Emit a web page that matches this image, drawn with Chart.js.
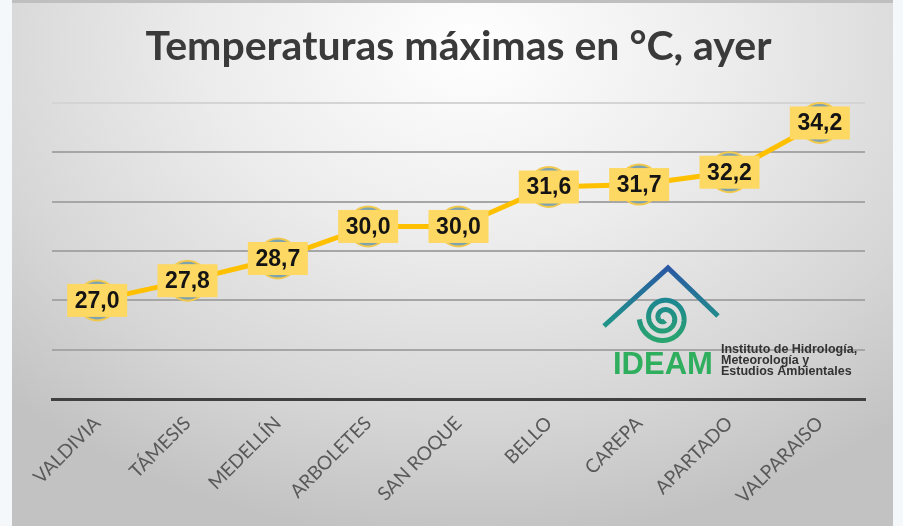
<!DOCTYPE html>
<html>
<head>
<meta charset="utf-8">
<script src="https://cdn.jsdelivr.net/npm/chart.js@4"></script>
<style>
  html, body { margin: 0; padding: 0; }
  body { width: 903px; height: 526px; background: #f4f8fb; position: relative; overflow: hidden; }
  #panel {
    position: absolute; left: 12px; top: 0; width: 881px; height: 526px;
    border-top: 3px solid #bfbfbf; box-sizing: border-box;
    background: radial-gradient(ellipse 75% 95% at 52% 8%, #ffffff 0%, #ececec 40%, #d6d6d6 75%, #c2c2c2 100%);
  }
  #wrap { position: absolute; left: 0; top: 0; width: 881px; height: 523px; }
</style>
</head>
<body>
<div id="panel">
  <div id="wrap"><canvas id="chart"></canvas></div>
</div>
<script>
// datos
const ciudades = ['VALDIVIA', 'TÁMESIS', 'MEDELLÍN', 'ARBOLETES', 'SAN ROQUE', 'BELLO', 'CAREPA', 'APARTADO', 'VALPARAISO'];
const temperaturas = [27.0, 27.8, 28.7, 30.0, 30.0, 31.6, 31.7, 32.2, 34.2];
const ejeMin = 23;
const ejeMax = 35;
const paso = 2;

// etiquetas amarillas sobre cada punto
const etiquetas = {
  id: 'etiquetas',
  afterDatasetsDraw(chart) {
    const ctx = chart.ctx;
    const meta = chart.getDatasetMeta(0);
    ctx.save();
    ctx.font = 'bold 23px "Liberation Sans", Arial, sans-serif';
    ctx.textAlign = 'center';
    ctx.textBaseline = 'middle';
    meta.data.forEach((p, i) => {
      const w = 60, h = 33;
      ctx.fillStyle = '#fdd862';
      ctx.fillRect(p.x - w / 2, p.y - h / 2, w, h);
      ctx.fillStyle = '#141414';
      ctx.fillText(temperaturas[i].toFixed(1).replace('.', ','), p.x, p.y + 1);
    });
    ctx.restore();
  }
};

// logo IDEAM (decoracion)
const logo = {
  id: 'logo',
  afterDraw(chart) {
    const ctx = chart.ctx;
    ctx.save();
    ctx.translate(-12, -3);
    // techo
    let g = ctx.createLinearGradient(0, 265, 0, 330);
    g.addColorStop(0, '#2a55a5');
    g.addColorStop(1, '#1f9a86');
    ctx.strokeStyle = g;
    ctx.lineWidth = 5;
    ctx.beginPath();
    ctx.moveTo(604, 326);
    ctx.lineTo(668, 268);
    ctx.lineTo(718, 316);
    ctx.stroke();
    // espiral
    g = ctx.createLinearGradient(0, 290, 0, 345);
    g.addColorStop(0, '#1a7f9a');
    g.addColorStop(1, '#2aa86a');
    ctx.strokeStyle = g;
    ctx.lineWidth = 5;
    ctx.beginPath();
    const cx = 664, cy = 318;
    for (let t = 0; t <= Math.PI * 4.6; t += 0.05) {
      const r = 3 + t * 1.5;
      const x = cx + r * Math.cos(t + 1.2);
      const y = cy + r * Math.sin(t + 1.2);
      if (t === 0) ctx.moveTo(x, y); else ctx.lineTo(x, y);
    }
    ctx.stroke();
    // texto
    ctx.fillStyle = '#2fae5e';
    ctx.font = 'bold 31px "Liberation Sans", Arial, sans-serif';
    ctx.textBaseline = 'alphabetic';
    ctx.fillText('IDEAM', 613, 374);
    ctx.fillStyle = '#333333';
    ctx.font = 'bold 12.5px "Liberation Sans", Arial, sans-serif';
    ctx.fillText('Instituto de Hidrología,', 721, 353);
    ctx.fillText('Meteorología y', 721, 364);
    ctx.fillText('Estudios Ambientales', 721, 375);
    ctx.restore();
  }
};

new Chart(document.getElementById('chart'), {
  type: 'line',
  data: {
    labels: ciudades,
    datasets: [{
      data: temperaturas,
      borderColor: '#ffc000',
      borderWidth: 5,
      pointRadius: 20,
      pointBackgroundColor: '#7fa3ae',
      pointBorderColor: '#f2c94c',
      pointBorderWidth: 2,
      tension: 0,
      clip: false
    }]
  },
  options: {
    responsive: true,
    maintainAspectRatio: false,
    animation: false,
    layout: { padding: { left: 40, right: 28, top: 0, bottom: 0 } },
    plugins: {
      legend: { display: false },
      tooltip: { enabled: false },
      title: {
        display: true,
        text: 'Temperaturas máximas en °C, ayer',
        color: '#3a3a3a',
        font: { family: 'Lato', size: 41, weight: 'bold' },
        padding: { top: 19, bottom: 32 }
      }
    },
    scales: {
      x: {
        offset: true,
        grid: { display: false },
        border: { display: true, color: '#404040', width: 3 },
        ticks: {
          color: '#595959',
          font: { family: 'Lato', size: 19 },
          minRotation: 45,
          maxRotation: 45,
          padding: 5
        },
        afterFit(s) { s.height = 127; }
      },
      y: {
        min: ejeMin,
        max: ejeMax,
        ticks: { display: false, stepSize: paso },
        border: { display: false },
        grid: {
          drawTicks: false,
          lineWidth: 2,
          color: c => c.tick.value === ejeMin ? 'rgba(0,0,0,0)' : (c.tick.value === ejeMax ? '#d4d4d4' : '#a6a6a6')
        },
        afterFit(s) { s.width = 0; }
      }
    }
  },
  plugins: [etiquetas, logo]
});
</script>
</body>
</html>
